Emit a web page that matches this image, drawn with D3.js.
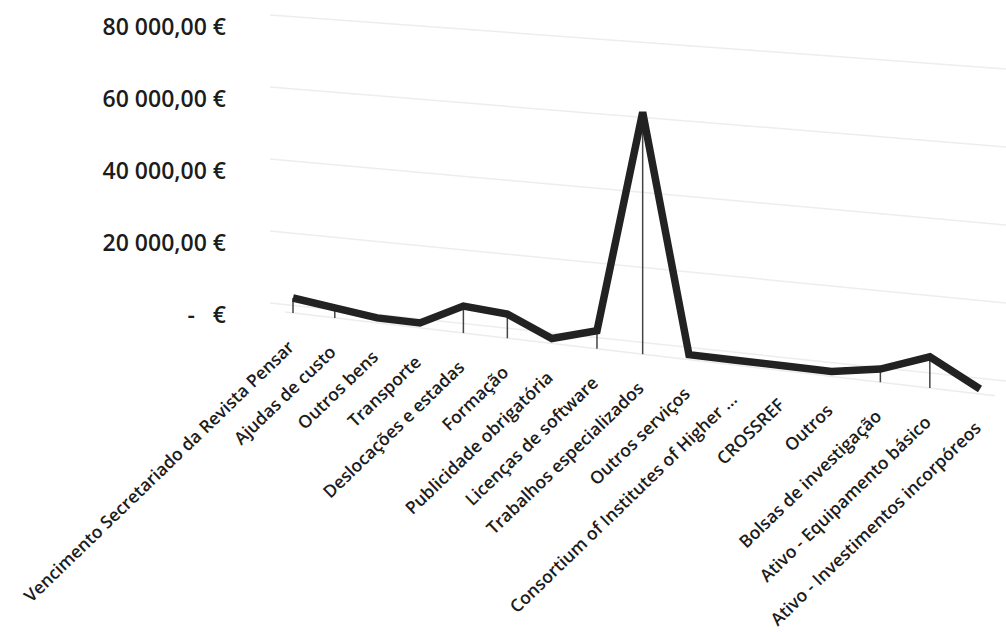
<!DOCTYPE html>
<html>
<head>
<meta charset="utf-8">
<script src="https://cdn.jsdelivr.net/npm/d3@7"></script>
<style>
  body { margin: 0; background: #fff; }
  text { font-family: "Open Sans", sans-serif; fill: #1c1c1c; }
</style>
</head>
<body>
<div id="chart"></div>
<script>
const categories = [
  "Vencimento Secretariado da Revista Pensar",
  "Ajudas de custo",
  "Outros bens",
  "Transporte",
  "Deslocações e estadas",
  "Formação",
  "Publicidade obrigatória",
  "Licenças de software",
  "Trabalhos especializados",
  "Outros serviços",
  "Consortium of Institutes of Higher ...",
  "CROSSREF",
  "Outros",
  "Bolsas de investigação",
  "Ativo - Equipamento básico",
  "Ativo - Investimentos incorpóreos"
];
const values = [2800, 1400, 0, 0, 6000, 5200, 0, 3500, 63000, 0, 0, 0, 0, 2100, 6700, 0];
const yTicks = [0, 20000, 40000, 60000, 80000];

const W = 1006, H = 632;
const g = 0.093; // perspective: spacing grows toward the right

const svg = d3.select("#chart").append("svg")
  .attr("width", W).attr("height", H);

const tScale = d3.scalePoint().domain(categories).range([0, 1]);
const warp = t => t * (1 - g) / (1 - g * t);
const xScale = d3.scaleLinear().domain([0, 1]).range([293, 980]);
const floorY = d3.scaleLinear().domain([293, 980]).range([313, 394]);
const hScale = d3.scaleLinear().domain([0, 20000]).range([0, 71.5]);

// back wall gridlines
const wallX = [270, 1006];
const yLeft = d3.scaleLinear().domain([0, 80000]).range([303, 15]);
const yRight = d3.scaleLinear().domain([0, 80000]).range([381, 69]);

const locale = d3.formatLocale({ decimal: ",", thousands: " ", grouping: [3], currency: ["", " €"] });
const fmt = locale.format(",.2f");
const tickLabel = v => v === 0 ? "-   €" : fmt(v) + " €";

svg.append("g").selectAll("line")
  .data(yTicks)
  .join("line")
  .attr("x1", wallX[0]).attr("x2", wallX[1])
  .attr("y1", d => yLeft(d)).attr("y2", d => yRight(d))
  .attr("stroke", "#ededed").attr("stroke-width", 1.5);

svg.append("g").selectAll("text")
  .data(yTicks)
  .join("text")
  .attr("x", 226)
  .attr("y", d => yLeft(d) + 12)
  .attr("dy", "0.35em")
  .attr("text-anchor", "end")
  .style("white-space", "pre")
  .style("font-size", "23px")
  .style("font-weight", 600)
  .text(tickLabel);

const pts = categories.map((c, i) => {
  const t = tScale(c);
  const x = xScale(warp(t));
  const f = floorY(x);
  return { c, v: values[i], x, f, y: f - 5 - hScale(values[i]) / (1 - g * t) };
});

// floor line under the ribbon
svg.append("line")
  .attr("x1", 285).attr("x2", 995)
  .attr("y1", floorY(285)).attr("y2", floorY(995))
  .attr("stroke", "#ececec").attr("stroke-width", 1.5);

// drop lines
svg.append("g").selectAll("line")
  .data(pts.filter(d => d.v > 0))
  .join("line")
  .attr("x1", d => d.x).attr("x2", d => d.x)
  .attr("y1", d => d.y).attr("y2", d => d.f)
  .attr("stroke", "#444").attr("stroke-width", 1.5);

const line = d3.line().x(d => d.x).y(d => d.y);

svg.append("path")
  .datum(pts)
  .attr("d", line)
  .attr("fill", "none")
  .attr("stroke", "#222")
  .attr("stroke-width", 7.5)
  .attr("stroke-linejoin", "miter")
  .attr("stroke-miterlimit", 4);

svg.append("g").selectAll("text")
  .data(pts)
  .join("text")
  .attr("transform", d => `translate(${d.x - 2},${d.f + 31}) rotate(-44)`)
  .attr("dy", "0.35em")
  .attr("text-anchor", "end")
  .style("font-size", "17.5px")
  .style("font-weight", 600)
  .text(d => d.c);
</script>
</body>
</html>
